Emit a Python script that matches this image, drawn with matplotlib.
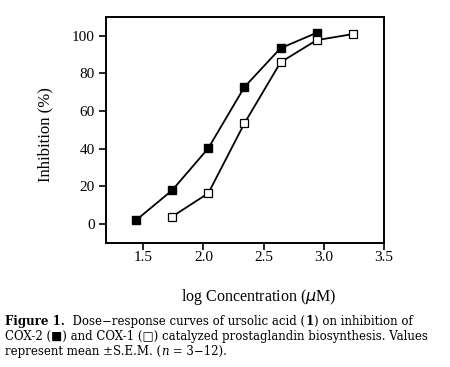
import matplotlib
matplotlib.use("Agg")
import matplotlib.pyplot as plt

# COX-2 (filled) and COX-1 (open) dose-response
cox2_x = [1.44, 1.74, 2.04, 2.34, 2.64, 2.94]
cox2_y = [2.1, 18.0, 40.3, 72.8, 93.4, 101.6]
cox1_x = [1.74, 2.04, 2.34, 2.64, 2.94, 3.24]
cox1_y = [4.0, 16.4, 53.5, 85.9, 97.7, 100.9]

xticks = [1.5, 2.0, 2.5, 3.0, 3.5]
yticks = [0, 20, 40, 60, 80, 100]

serif = ['Liberation Serif', 'DejaVu Serif', 'DejaVu Sans']
capfont = ['DejaVu Serif', 'DejaVu Sans']
plt.rcParams['font.family'] = serif

fig = plt.figure(figsize=(4.5, 3.67), dpi=100)
ax = fig.add_axes([0.2356, 0.338, 0.6177, 0.6157])

ax.plot(cox2_x, cox2_y, color='black', lw=1.3, marker='s', ms=6.2,
        mfc='black', mec='black', zorder=3)
ax.plot(cox1_x, cox1_y, color='black', lw=1.3, marker='s', ms=6.2,
        mfc='white', mec='black', mew=0.9, zorder=3)

ax.set_xlim(1.19, 3.5)
ax.set_ylim(-10, 110)
ax.set_xticks(xticks)
ax.set_xticklabels([f"{t:.1f}" for t in xticks])
ax.set_yticks(yticks)
ax.tick_params(direction='out', length=5, width=1.2, labelsize=11)
ax.tick_params(axis='y', pad=3)
ax.tick_params(axis='x', pad=1)
for s in ax.spines.values():
    s.set_linewidth(1.4)

ax.set_ylabel('Inhibition (%)', fontsize=12)
ax.yaxis.set_label_coords(-0.188, 0.478)
fig.text(0.576, 0.192, 'log Concentration ($\\mu$M)', fontsize=11.5,
         ha='center', va='center')

# caption with mixed weights
fig.canvas.draw()
renderer = fig.canvas.get_renderer()

line2 = 'COX-2 (\u25a0) and COX-1 (\u25a1) catalyzed prostaglandin biosynthesis. Values'
probe = fig.text(0, 0, line2, fontsize=10, family=capfont)
w = probe.get_window_extent(renderer=renderer).width
probe.remove()
capsize = 10 * 423 / w


def draw_line(parts, x0, y0, size=capsize):
    x = x0
    for txt, weight, style in parts:
        t = fig.text(x, y0, txt, fontsize=size, fontweight=weight,
                     fontstyle=style, ha='left', va='baseline', family=capfont)
        bb = t.get_window_extent(renderer=renderer)
        x += bb.width / fig.bbox.width


draw_line([('Figure 1.', 'bold', 'normal'),
           ('  Dose\u2212response curves of ursolic acid (', 'normal', 'normal'),
           ('1', 'bold', 'normal'),
           (') on inhibition of', 'normal', 'normal')], 0.012, 0.114)
draw_line([(line2, 'normal', 'normal')], 0.012, 0.074)
draw_line([('represent mean \u00b1S.E.M. (', 'normal', 'normal'),
           ('n', 'normal', 'italic'),
           (' = 3\u221212).', 'normal', 'normal')], 0.012, 0.033)

fig.savefig('out.png', dpi=100)
